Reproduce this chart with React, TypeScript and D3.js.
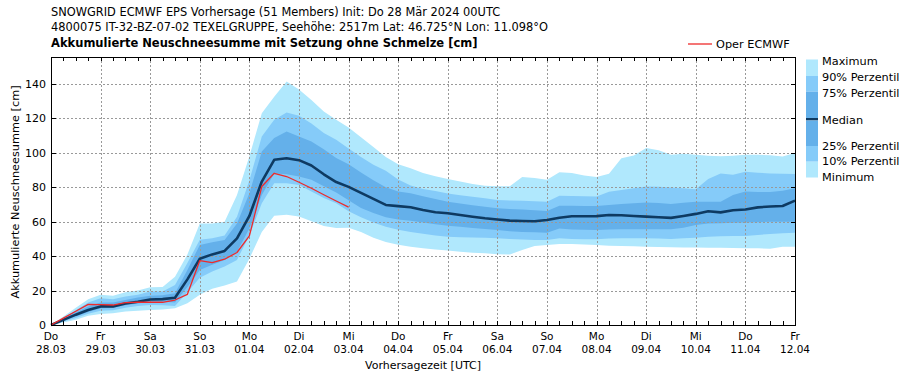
import React from "react";
import * as d3 from "d3";

const maxV = [0,5,10,15,17.6,17,19,20,21.9,22,28, 41,59,59,60,75.5,98,123,132.5,141.4,136.8, 130.7,124,119.1,114.6,109,103.3,97.5,93.3,91,88.2, 86.3,84.8,83.3,81.9,80.9,80.5,80.5,86,85.3,84.3, 88.7,88.2,86.8,86,87.8,96.8,98.4,102.7,101.5,98.8, 99.5,98.8,98.2,98,98.2,98.8,98.8,98.5,97.8,99.8];
const p90 = [0,4.2,8.5,13,15.5,15,16.5,17.5,19.4,19.5,23.2, 36,49.5,50.4,51.9,62.9,84,109.4,119.2,123.4,121.5, 117,111.5,107.5,102.5,97.5,93,89.5,84.5,81,79, 77.8,76.3,75.3,74.5,73.6,72.6,72.3,72.1,71.9,71.6, 75,74.9,74.7,74.6,77.3,78.4,79.4,80.4,80.2,79.8, 79.4,78.8,84.7,88,87.3,89,88.4,88,87.8,87.6];
const p75 = [0,3.6,7.2,10.8,13,13,14.5,16,17,17.3,18.4, 32,46.5,48,49.4,59,76.5,100.7,108.5,112.3,109.4, 106.5,102,97,93.3,88.5,84,80,77.5,76.5,74.8, 73.2,71.6,70.5,69.5,68.6,67.8,67.3,67,66.6,66.2, 69.3,69.2,69.1,69.1,69.7,70.3,70.7,71.1,70.8,70.3, 71,71.6,71.6,71.5,75.5,77.5,77.2,77.2,78,79.4];
const median = [0,3,6,8.7,10.8,10.8,12.5,13.5,14.8,15,15.8, 26.5,38.5,41,43,50.3,63.3,83.3,95.9,96.8,95.7, 92.6,87.5,83,80.2,76.7,73.2,69.7,69,68.4,66.8, 65.5,64.9,63.9,62.9,62,61.3,60.6,60.4,60.2,61, 62.3,63.1,63.1,63.2,63.9,63.7,63.3,62.9,62.6,62.2, 63.3,64.5,66,65.4,66.6,67.1,68.3,68.8,69.1,72.2];
const p25 = [0,2.5,5,7.5,9.7,9.8,11.5,12.5,13.5,13.5,13, 22,32,35,37.8,42.5,56,75.5,88,87.5,86.2, 84.3,80.5,77,72.5,68,65,62.5,61.2,60.5,59.5, 58.5,57.6,57,56.3,55.7,55.2,54.5,54,53.8,53.6, 56,55.5,55.3,55.2,55.5,55.6,55.6,55.6,55.6,55.6, 56.5,58.1,59,59.1,59.3,59.5,59.7,60,60,60];
const p10 = [0,2,4,6.5,8.3,8.5,10,11,11.6,11.5,11, 19,27.5,31,33.9,37.8,52,70.7,82.3,82.3,81.3, 77.5,73.8,70.7,66,62.5,59.5,57,55.3,54,53, 52,51.3,51,50.8,50.6,50.4,50,49.6,49.4,49.3, 50.4,50,49.8,49.8,50.2,50.4,50.4,50.4,50.2,50, 50.4,50.7,51.3,51.5,51.7,51.7,52.3,52.9,53.3,53.6];
const minV = [0,1.5,3,5.3,6.4,6.8,7.8,8.3,8.7,9,9.7, 12.6,17.5,21,23,25.3,38.5,54,63.4,64,63, 60.2,57.5,56.3,56.5,54,50.6,48.2,46.6,45.5,44.6, 43.9,43.2,42.6,42,41.6,41.1,41,43.5,45.8,46.5, 47,47,46.7,46.5,46,45.9,45.7,45.5,45.3,45.2, 45,45,44.9,44.8,44.7,44.6,44.5,44.2,45.5,45.5];
const oper = [0,4,8,12,11.8,11.6,13,13.2,13.3,13.2,14.5, 17.8,37.4,36.2,38.2,42.1,51.7,80.4,88.1,86.2,82.9, 79.4,75.6,72,68.4];

const dayNames = ["Do","Fr","Sa","So","Mo","Di","Mi","Do","Fr","Sa","So","Mo","Di","Mi","Do","Fr"];
const dayDates = ["28.03","29.03","30.03","31.03","01.04","02.04","03.04","04.04","05.04","06.04","07.04","08.04","09.04","10.04","11.04","12.04"];
const yTicks = [0,20,40,60,80,100,120,140];
const titleLines = [
  "SNOWGRID ECMWF EPS Vorhersage (51 Members) Init: Do 28 Mär 2024 00UTC",
  "4800075 IT-32-BZ-07-02 TEXELGRUPPE, Seehöhe: 2517m Lat: 46.725\u00b0N Lon: 11.098\u00b0O",
];
const subTitle = "Akkumulierte Neuschneesumme mit Setzung ohne Schmelze [cm]";
const legendLabels = ["Maximum","90% Perzentil","75% Perzentil","Median","25% Perzentil","10% Perzentil","Minimum"];

const START = new Date(Date.UTC(2024, 2, 28));
const END = new Date(Date.UTC(2024, 3, 12));

const C_LIGHT = "#b0e8fd";
const C_MED = "#85cbf9";
const C_DARK = "#64b0ea";
const C_MEDIAN = "#0e3a62";
const C_OPER = "#ee2a2a";
const FONT = "DejaVu Sans, sans-serif";

export default function App() {
  const L = 51, R = 795, T = 57, B = 325;
  const x = d3.scaleUtc().domain([START, END]).range([L, R]);
  const y = d3.scaleLinear().domain([0, 155.6]).range([B, T]);
  const times = maxV.map((_, i) => d3.utcHour.offset(START, i * 6));

  const band = (lo: number[], hi: number[]) =>
    d3.area<number>().x((i) => x(times[i])).y0((i) => y(lo[i])).y1((i) => y(hi[i]))(d3.range(lo.length)) || "";
  const line = (v: number[]) =>
    d3.line<number>().x((i) => x(times[i])).y((i) => y(v[i]))(d3.range(v.length)) || "";

  const days = d3.utcDay.range(START, d3.utcDay.offset(END, 1));
  const sixH = d3.utcHour.every(6)!.range(START, d3.utcHour.offset(END, 1));

  const legendX = 806, legendW = 12;
  const segs = [
    { y0: 59.5, y1: 76, c: C_LIGHT },
    { y0: 76, y1: 91.7, c: C_MED },
    { y0: 91.7, y1: 118, c: C_DARK },
    { y0: 118, y1: 120.5, c: C_MEDIAN },
    { y0: 120.5, y1: 146, c: C_DARK },
    { y0: 146, y1: 161.7, c: C_MED },
    { y0: 161.7, y1: 177.5, c: C_LIGHT },
  ];
  const legendY = [61, 77, 92.5, 120, 145.5, 161, 177];

  return (
    <svg width={909} height={380} style={{ position: "absolute", left: 0, top: 0, background: "#fff" }} fontFamily={FONT}>
      <rect width={909} height={380} fill="#fff" />
      {titleLines.map((t, i) => (
        <text key={i} x={51} y={16 + i * 15} fontSize={11.4} fill="#000">{t}</text>
      ))}
      <text x={51} y={47} fontSize={11.5} fontWeight="bold" fill="#000">{subTitle}</text>

      <path d={band(minV, maxV)} fill={C_LIGHT} />
      <path d={band(p10, p90)} fill={C_MED} />
      <path d={band(p25, p75)} fill={C_DARK} />

      {yTicks.filter((v) => v > 0).map((v) => (
        <line key={"gy" + v} x1={L} x2={R} y1={Math.round(y(v)) + 0.5} y2={Math.round(y(v)) + 0.5} stroke="#999" strokeDasharray="2,2" strokeWidth={1} />
      ))}
      {days.slice(1, -1).map((d, i) => (
        <line key={"gx" + i} x1={Math.round(x(d)) + 0.5} x2={Math.round(x(d)) + 0.5} y1={T} y2={B} stroke="#999" strokeDasharray="2,2" strokeWidth={1} />
      ))}

      <path d={line(median)} fill="none" stroke={C_MEDIAN} strokeWidth={2.6} strokeLinejoin="round" />
      <path d={line(oper)} fill="none" stroke={C_OPER} strokeWidth={1.3} strokeLinejoin="round" />

      <rect x={L + 0.5} y={T + 0.5} width={R - L} height={B - T} fill="none" stroke="#000" strokeWidth={1} />
      {sixH.map((d, i) => (
        <g key={"t" + i}>
          <line x1={Math.round(x(d)) + 0.5} x2={Math.round(x(d)) + 0.5} y1={B} y2={B - 4} stroke="#000" />
          <line x1={Math.round(x(d)) + 0.5} x2={Math.round(x(d)) + 0.5} y1={T} y2={T + 4} stroke="#000" />
        </g>
      ))}
      {yTicks.map((v) => (
        <g key={"yt" + v}>
          <line x1={L} x2={L + 5} y1={Math.round(y(v)) + 0.5} y2={Math.round(y(v)) + 0.5} stroke="#000" />
          <line x1={R - 4} x2={R + 1} y1={Math.round(y(v)) + 0.5} y2={Math.round(y(v)) + 0.5} stroke="#000" />
          <text x={46} y={y(v) + 4} fontSize={11} textAnchor="end" fill="#000">{v}</text>
        </g>
      ))}
      {days.map((d, i) => (
        <g key={"xl" + i}>
          <text x={x(d)} y={340} fontSize={10.5} textAnchor="middle" fill="#000">{dayNames[i]}</text>
          <text x={x(d)} y={352.5} fontSize={10.5} textAnchor="middle" fill="#000">{dayDates[i]}</text>
        </g>
      ))}
      <text x={(L + R) / 2} y={369} fontSize={11} textAnchor="middle" fill="#000">Vorhersagezeit [UTC]</text>
      <text transform={`translate(19,${(T + B) / 2 + 1}) rotate(-90)`} fontSize={11.3} textAnchor="middle" fill="#000">Akkumulierte Neuschneesumme [cm]</text>

      <line x1={688} x2={712} y1={44} y2={44} stroke={C_OPER} strokeWidth={1.3} />
      <text x={716} y={48} fontSize={11.3} fill="#000">Oper ECMWF</text>

      {segs.map((s, i) => (
        <rect key={"ls" + i} x={legendX} y={s.y0} width={legendW} height={s.y1 - s.y0} fill={s.c} />
      ))}
      {legendLabels.map((t, i) => (
        <text key={"ll" + i} x={822} y={legendY[i] + 4} fontSize={11.3} fill="#000">{t}</text>
      ))}
    </svg>
  );
}
